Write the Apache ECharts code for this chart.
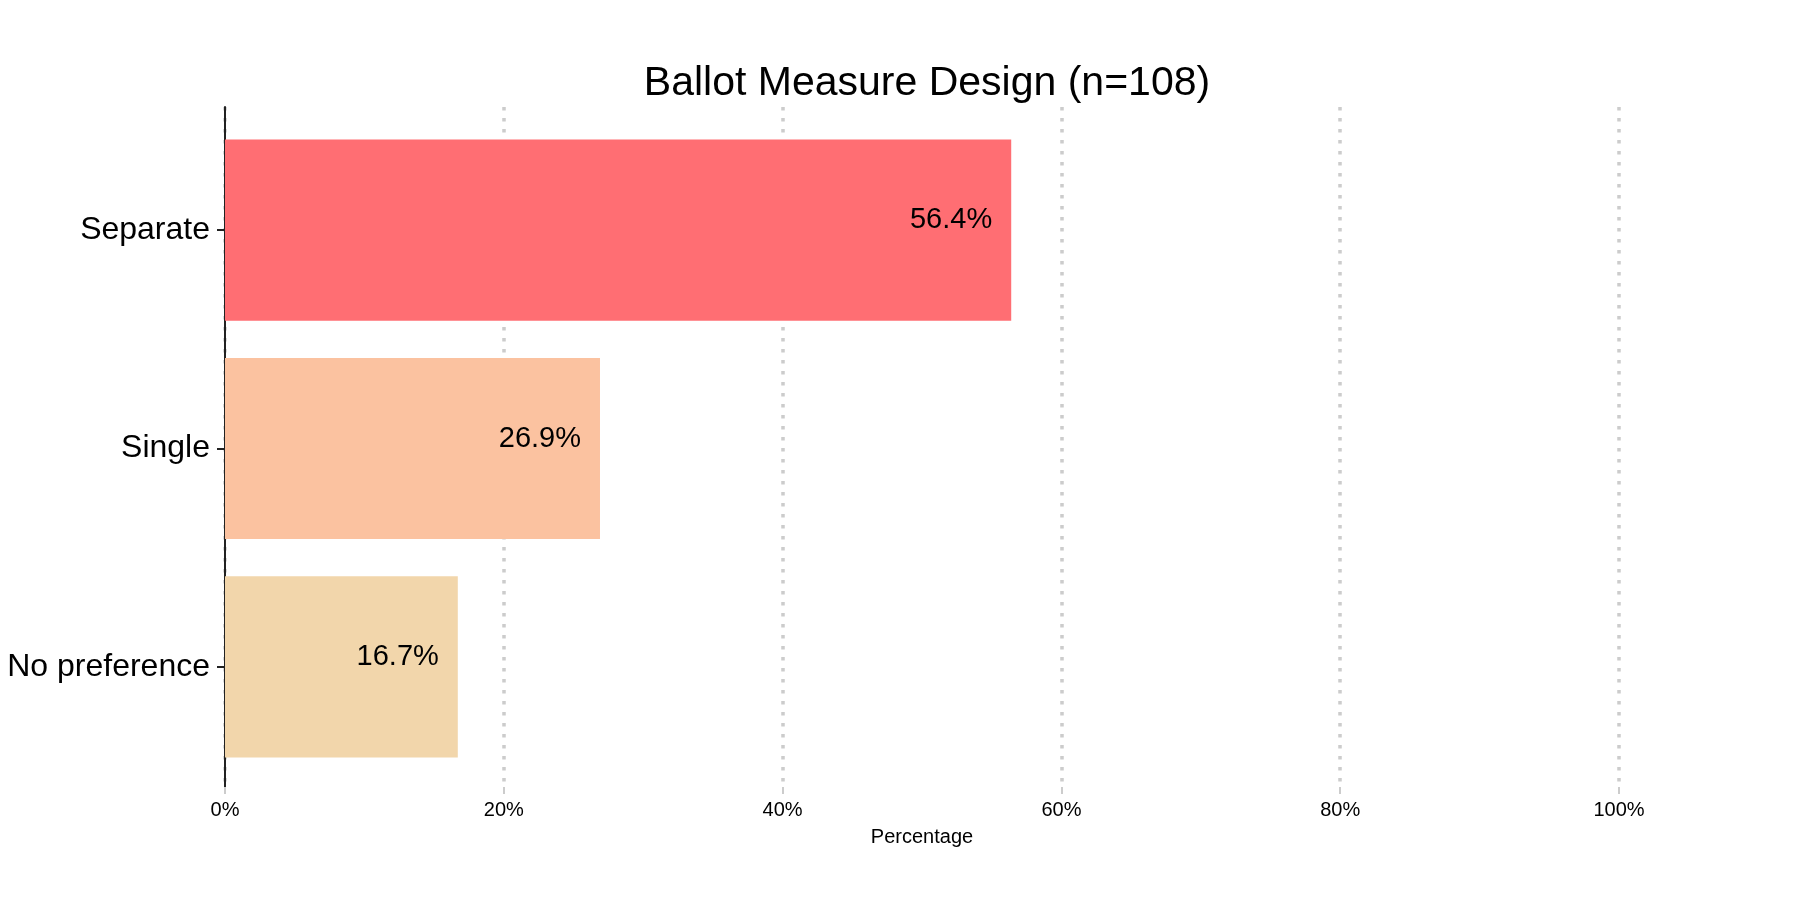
<!DOCTYPE html>
<html><head><meta charset="utf-8">
<script src="https://cdn.jsdelivr.net/npm/echarts@6/dist/echarts.min.js"></script>
<style>html,body{margin:0;padding:0;background:#fff}#c{width:1800px;height:900px}</style>
</head><body><div id="c"></div>
<script>
const categories = ['Separate', 'Single', 'No preference'];
const values = [56.4, 26.9, 16.7];
const barColors = ['#FF6E73', '#FBC2A0', '#F2D6AB'];
const xTickValues = [0, 20, 40, 60, 80, 100];
const chartTitle = 'Ballot Measure Design (n=108)';
const xName = 'Percentage';

const FONT = 'Liberation Sans, Arial, Helvetica, sans-serif';
const chart = echarts.init(document.getElementById('c'), null, {renderer: 'canvas'});
chart.setOption({
  backgroundColor: '#ffffff',
  animation: false,
  textStyle: {fontFamily: FONT},
  title: {
    text: chartTitle, left: 922, top: 58, textAlign: 'center',
    textStyle: {fontSize: 41, fontWeight: 'normal', color: '#000', fontFamily: FONT}
  },
  grid: [
    {left: 225, right: 181, top: 107, height: 680},
    {left: 225, right: 181, top: 121, height: 655}
  ],
  xAxis: [
    {
      type: 'value', gridIndex: 0, min: xTickValues[0], max: xTickValues[xTickValues.length - 1], interval: 20,
      axisLine: {show: false},
      axisTick: {show: true, length: 7, lineStyle: {color: '#cccccc', width: 2}},
      axisLabel: {formatter: '{value}%', fontSize: 20, color: '#000', margin: 13, fontFamily: FONT},
      splitLine: {show: true, lineStyle: {color: '#cccccc', width: 3.5, type: [3.5, 7.5]}},
      name: xName, nameLocation: 'middle', nameGap: 40,
      nameTextStyle: {fontSize: 20, color: '#000', fontFamily: FONT}
    },
    {type: 'value', gridIndex: 1, min: 0, max: 100, show: false}
  ],
  yAxis: [
    {
      type: 'category', gridIndex: 0, data: categories, inverse: true,
      axisLine: {show: true, lineStyle: {color: '#222', width: 2}},
      axisTick: {show: false}, axisLabel: {show: false}, splitLine: {show: false}
    },
    {
      type: 'category', gridIndex: 1, data: categories, inverse: true,
      axisLine: {show: false},
      axisTick: {show: true, alignWithLabel: true, length: 8, lineStyle: {color: '#222', width: 2}},
      axisLabel: {fontSize: 32, color: '#000', margin: 15, fontFamily: FONT},
      splitLine: {show: false}
    }
  ],
  series: [{
    type: 'bar', xAxisIndex: 1, yAxisIndex: 1, z: 5,
    barWidth: '83%',
    data: values.map((v, i) => ({value: v, itemStyle: {color: barColors[i]}})),
    label: {
      show: true, position: 'insideRight', distance: 19, offset: [0, -10],
      formatter: p => p.value.toFixed(1) + '%',
      fontSize: 29, color: '#000', fontFamily: FONT
    }
  }]
});
</script></body></html>
